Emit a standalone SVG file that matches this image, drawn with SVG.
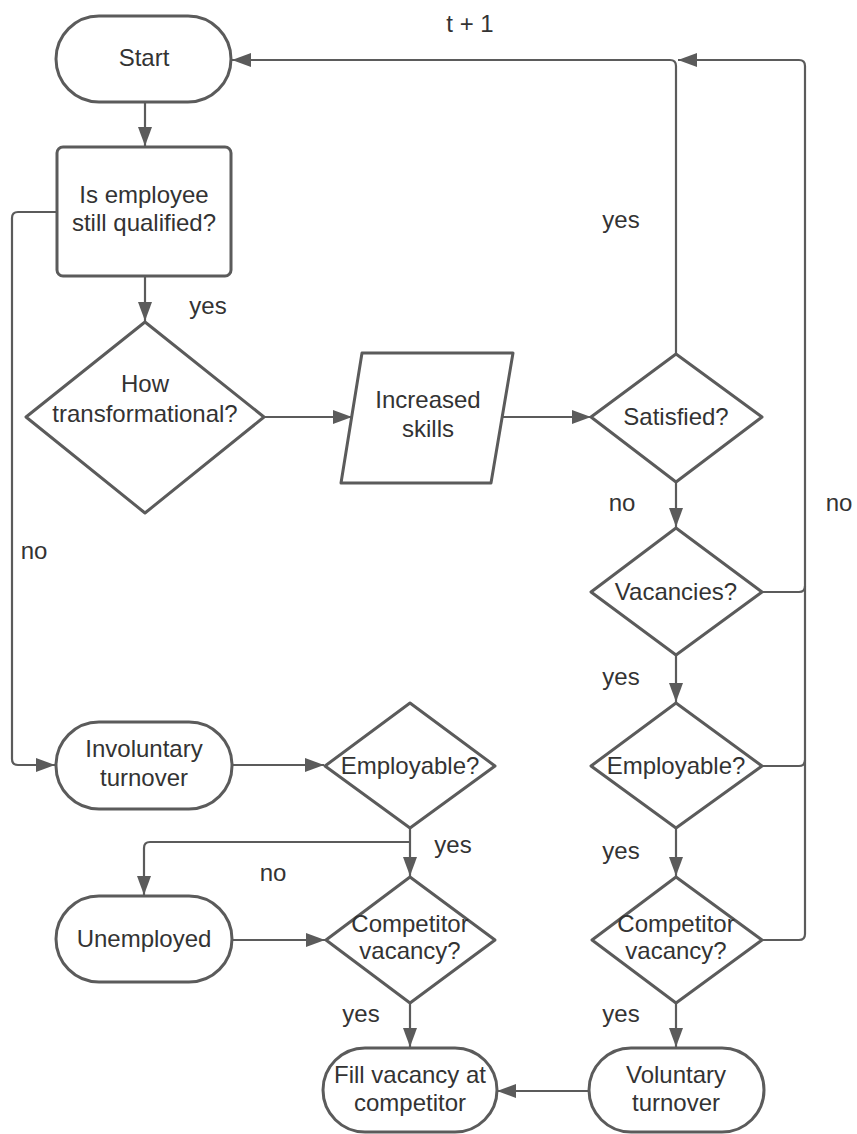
<svg xmlns="http://www.w3.org/2000/svg" width="857" height="1134" viewBox="0 0 857 1134">
<style>
.n{fill:#fff;stroke:#5b5b5b;stroke-width:3;stroke-linejoin:round}
.c{fill:none;stroke:#5b5b5b;stroke-width:2.2}
.a{marker-end:url(#ah)}
text{font-family:"Liberation Sans",Arial,sans-serif;font-size:24px;fill:#333}
.m{text-anchor:middle}
</style>
<defs>
<marker id="ah" markerUnits="userSpaceOnUse" markerWidth="20" markerHeight="14" refX="19" refY="7" orient="auto">
<path d="M0,0 L19,7 L0,14 z" fill="#5b5b5b"/>
</marker>
</defs>
<rect width="857" height="1134" fill="#fff"/>
<g id="connectors">
<path class="c a" d="M145,103 V146"/>
<path class="c a" d="M145,276 V321"/>
<path class="c a" d="M57,212 H18 Q12,212 12,218 V759 Q12,765 18,765 H55"/>
<path class="c a" d="M264,417 H352"/>
<path class="c a" d="M502,417 H591"/>
<path class="c a" d="M676,353 V66 Q676,60 670,60 H232"/>
<path class="c a" d="M762,940 H799 Q805,940 805,934 V66 Q805,60 799,60 H678"/>
<path class="c" d="M762,592 H799 Q805,592 805,586"/>
<path class="c" d="M762,766 H799 Q805,766 805,760"/>
<path class="c a" d="M676,482 V527"/>
<path class="c a" d="M676,655 V702"/>
<path class="c a" d="M676,828 V876"/>
<path class="c a" d="M676,1003 V1047"/>
<path class="c a" d="M588,1091 H497"/>
<path class="c a" d="M232,765 H324"/>
<path class="c a" d="M410,828 V876"/>
<path class="c a" d="M410,842 H150 Q144,842 144,848 V895"/>
<path class="c a" d="M232,940 H325"/>
<path class="c a" d="M410,1003 V1047"/>
</g>
<g id="labels">
<text class="m" x="470" y="32">t + 1</text>
<text class="m" x="208" y="314">yes</text>
<text class="m" x="621" y="228">yes</text>
<text class="m" x="34" y="559">no</text>
<text class="m" x="622" y="511">no</text>
<text class="m" x="839" y="511">no</text>
<text class="m" x="621" y="685">yes</text>
<text class="m" x="621" y="859">yes</text>
<text class="m" x="621" y="1022">yes</text>
<text class="m" x="453" y="853">yes</text>
<text class="m" x="273" y="881">no</text>
<text class="m" x="361" y="1022">yes</text>
</g>
<g id="start">
<rect class="n" x="56" y="16" width="175" height="86" rx="43"/>
<text class="m" x="144" y="66">Start</text>
</g>
<g id="qualified">
<rect class="n" x="57" y="147" width="174" height="129" rx="6"/>
<text class="m" x="144" y="203">Is employee</text>
<text class="m" x="144" y="231">still qualified?</text>
</g>
<g id="transformational">
<path class="n" d="M145,322 L264,417 L145,513 L26,417 Z"/>
<text class="m" x="145" y="392">How</text>
<text class="m" x="145" y="422">transformational?</text>
</g>
<g id="skills">
<path class="n" d="M362,353 L513,353 L491,483 L341,483 Z"/>
<text class="m" x="428" y="408">Increased</text>
<text class="m" x="428" y="437">skills</text>
</g>
<g id="satisfied">
<path class="n" d="M676,354 L762,417 L676,482 L591,417 Z"/>
<text class="m" x="676" y="425">Satisfied?</text>
</g>
<g id="vacancies">
<path class="n" d="M676,528 L762,592 L676,655 L591,592 Z"/>
<text class="m" x="676" y="600">Vacancies?</text>
</g>
<g id="employable-r">
<path class="n" d="M676,703 L762,766 L676,828 L591,766 Z"/>
<text class="m" x="676" y="774">Employable?</text>
</g>
<g id="competitor-r">
<path class="n" d="M676,877 L762,940 L676,1003 L592,940 Z"/>
<text class="m" x="676" y="932">Competitor</text>
<text class="m" x="676" y="959">vacancy?</text>
</g>
<g id="voluntary">
<rect class="n" x="589" y="1048" width="175" height="84" rx="42"/>
<text class="m" x="676" y="1083">Voluntary</text>
<text class="m" x="676" y="1111">turnover</text>
</g>
<g id="fill">
<rect class="n" x="323" y="1048" width="174" height="84" rx="42"/>
<text class="m" x="410" y="1083">Fill vacancy at</text>
<text class="m" x="410" y="1111">competitor</text>
</g>
<g id="involuntary">
<rect class="n" x="56" y="722" width="176" height="87" rx="43"/>
<text class="m" x="144" y="757">Involuntary</text>
<text class="m" x="144" y="786">turnover</text>
</g>
<g id="employable-l">
<path class="n" d="M410,703 L495,766 L410,828 L325,766 Z"/>
<text class="m" x="410" y="774">Employable?</text>
</g>
<g id="unemployed">
<rect class="n" x="56" y="896" width="176" height="86" rx="43"/>
<text class="m" x="144" y="947">Unemployed</text>
</g>
<g id="competitor-l">
<path class="n" d="M410,877 L495,940 L410,1003 L326,940 Z"/>
<text class="m" x="410" y="932">Competitor</text>
<text class="m" x="410" y="959">vacancy?</text>
</g>
</svg>
